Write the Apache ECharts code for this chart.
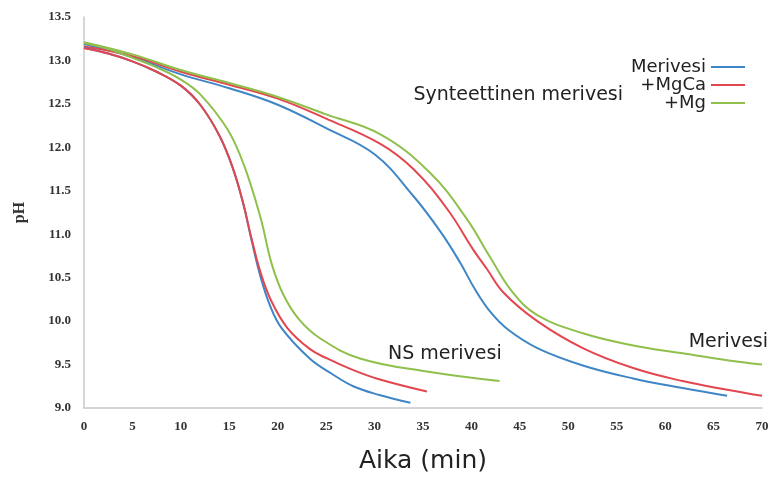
<!DOCTYPE html>
<html>
<head>
<meta charset="utf-8">
<script src="https://cdn.jsdelivr.net/npm/echarts@6/dist/echarts.min.js"></script>
<style>
  html, body { margin: 0; padding: 0; background: #fff; }
  #chart { width: 773px; height: 479px; }
</style>
</head>
<body>
<div id="chart"></div>
<script>
// [aika (min), pH]
var slowBlue = [[0, 13.19], [5, 13.04], [10, 12.84], [15, 12.68], [20, 12.49], [25, 12.22], [30, 11.92],
    [34, 11.44], [36.8, 11.03], [38.8, 10.68], [40.4, 10.36], [42, 10.1], [43.8, 9.9], [46.8, 9.69],
    [51.5, 9.49], [56.7, 9.34], [61.8, 9.23], [66.4, 9.14]];
var slowRed = [[0, 13.16], [5, 13.05], [10, 12.87], [15, 12.72], [20, 12.56], [25, 12.33], [30.6, 12.04],
    [34, 11.75], [37.5, 11.29], [40.2, 10.82], [41.6, 10.6], [43.3, 10.33], [46.8, 10.0], [51.5, 9.69],
    [56.7, 9.46], [61.8, 9.31], [66.4, 9.21], [70, 9.14]];
var slowGreen = [[0, 13.21], [5, 13.07], [10, 12.89], [15, 12.74], [20, 12.58], [25, 12.38], [30.6, 12.15],
    [35.7, 11.71], [39.5, 11.18], [41.9, 10.74], [44.2, 10.34], [46.8, 10.07], [51.5, 9.86], [56.7, 9.72],
    [61.8, 9.63], [66.4, 9.55], [70, 9.5]];
var fastBlue = [[0, 13.15], [2.5, 13.08], [5, 12.99], [7.5, 12.87], [10, 12.71], [12, 12.49], [14, 12.13],
    [15.4, 11.75], [16.4, 11.37], [17.3, 10.93], [18.2, 10.52], [19.2, 10.18], [20.4, 9.92], [23.3, 9.57],
    [25.5, 9.4], [27.8, 9.25], [30.5, 9.15], [33.7, 9.06]];
var fastRed = [[0, 13.14], [2.5, 13.08], [5, 12.99], [7.5, 12.87], [10, 12.71], [12, 12.49], [14, 12.13],
    [15.4, 11.75], [16.4, 11.37], [17.3, 10.95], [18.2, 10.57], [19.3, 10.24], [21, 9.92], [23.3, 9.68],
    [25.1, 9.57], [27.5, 9.45], [30.2, 9.34], [35.4, 9.19]];
var fastGreen = [[0, 13.2], [2.5, 13.13], [5, 13.03], [7.5, 12.92], [10, 12.78], [12, 12.61], [14.8, 12.21],
    [16.5, 11.8], [18.2, 11.2], [19.4, 10.65], [20.6, 10.3], [22.2, 10.02], [24.4, 9.8],
    [28.5, 9.57], [35.4, 9.42], [42.9, 9.31]];

var legendNames = ['Merivesi', '+MgCa', '+Mg'];
var colors = ['#3f86c6', '#e2474f', '#8fc04c'];

var chart = echarts.init(document.getElementById('chart'));

function line(name, data, color) {
    return {
        name: name,
        type: 'line',
        data: data,
        smooth: 0.4,
        showSymbol: false,
        lineStyle: { color: color, width: 2 },
        itemStyle: { color: color }
    };
}

var axisFont = { fontFamily: 'Liberation Serif', fontWeight: 'bold', fontSize: 13, color: '#333' };
var noteFont = '19px "DejaVu Sans"';

chart.setOption({
    animation: false,
    grid: { left: 84, right: 11, top: 17, bottom: 69 },
    legend: {
        data: legendNames,
        orient: 'vertical',
        align: 'right',
        right: 23,
        top: 53,
        itemGap: 0,
        itemWidth: 34,
        itemHeight: 2,
        icon: 'rect',
        textStyle: { fontFamily: 'DejaVu Sans', fontSize: 18, lineHeight: 18, color: '#222', width: 85, align: 'right' }
    },
    xAxis: {
        type: 'value',
        min: 0,
        max: 70,
        interval: 5,
        name: 'Aika (min)',
        nameLocation: 'middle',
        nameGap: 41,
        nameTextStyle: { fontFamily: 'DejaVu Sans', fontSize: 25, color: '#222' },
        axisLine: { lineStyle: { color: '#c8c8c8', width: 1.5 } },
        axisTick: { show: false },
        splitLine: { show: false },
        axisLabel: Object.assign({ margin: 12 }, axisFont)
    },
    yAxis: {
        type: 'value',
        min: 9,
        max: 13.5,
        interval: 0.5,
        name: 'pH',
        nameLocation: 'middle',
        nameGap: 56,
        nameTextStyle: { fontFamily: 'Liberation Serif', fontWeight: 'bold', fontSize: 16, color: '#333' },
        axisLine: { show: true, lineStyle: { color: '#c8c8c8', width: 1.5 } },
        axisTick: { show: false },
        splitLine: { show: false },
        axisLabel: Object.assign({ margin: 13, formatter: function (v) { return v.toFixed(1); } }, axisFont)
    },
    graphic: [
        { type: 'text', right: 150, top: 86, style: { text: 'Synteettinen merivesi', font: noteFont, fill: '#222' } },
        { type: 'text', left: 388, top: 345, style: { text: 'NS merivesi', font: noteFont, fill: '#222' } },
        { type: 'text', right: 5, top: 333, style: { text: 'Merivesi', font: noteFont, fill: '#222' } }
    ],
    series: [
        line('Merivesi', slowBlue, colors[0]),
        line('+MgCa', slowRed, colors[1]),
        line('+Mg', slowGreen, colors[2]),
        line('NS merivesi', fastBlue, colors[0]),
        line('NS merivesi +MgCa', fastRed, colors[1]),
        line('NS merivesi +Mg', fastGreen, colors[2])
    ]
});
</script>
</body>
</html>
